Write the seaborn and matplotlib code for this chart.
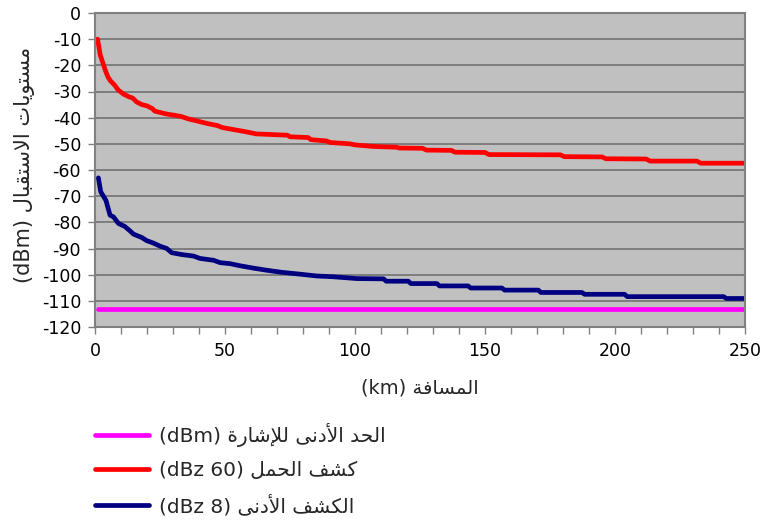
import re
import matplotlib
matplotlib.use("Agg")
import matplotlib.pyplot as plt
import seaborn as sns

# ---------------- data ----------------
min_signal_km = [1, 250]
min_signal_dbm = [-113, -113]

heavy_km = [1, 2, 3, 4, 5, 6, 7.5, 9, 11, 13, 14.5, 16, 18, 20, 22, 23, 27, 30, 33, 36,
            39, 43, 47, 49, 53, 57.5, 62, 74, 75, 82, 83, 89, 90.5, 98, 100, 107, 116,
            117, 126, 127.5, 137, 138.5, 150, 151.5, 179, 180.5, 195, 196.5, 212,
            213.5, 231.5, 233, 250]
heavy_dbm = [-10, -16, -19, -22, -24.5, -26, -27.5, -29.5, -31, -32, -32.5, -34, -35,
             -35.5, -36.5, -37.5, -38.5, -39, -39.5, -40.5, -41.2, -42.2, -43, -43.8,
             -44.5, -45.3, -46.2, -46.7, -47.3, -47.6, -48.4, -48.9, -49.5, -50, -50.4,
             -51, -51.3, -51.6, -51.7, -52.4, -52.5, -53.2, -53.3, -54.1, -54.2, -54.9,
             -55.0, -55.7, -55.8, -56.6, -56.6, -57.4, -57.4]

weak_km = [1.3, 2.2, 4.2, 5.8, 7.1, 9, 11.5, 13.5, 14.8, 16, 18, 19.9, 22.4, 25, 27.6,
           29.5, 33.3, 37.9, 40.4, 45.6, 48.1, 52, 55.8, 60.9, 66, 71.8, 78.8, 85.3,
           91.7, 100.7, 111, 112, 120.5, 121.5, 131.5, 132.5, 143.5, 144.5, 156.5,
           157.5, 170.5, 171.5, 187.3, 188.3, 203.7, 204.7, 241.8, 242.8, 250]
weak_dbm = [-63, -68.3, -71.6, -77.3, -77.9, -80.4, -81.6, -83.3, -84.5, -85, -85.8,
            -87, -87.9, -89.1, -90, -91.6, -92.3, -92.9, -93.8, -94.5, -95.4, -95.8,
            -96.6, -97.5, -98.3, -99.1, -99.8, -100.5, -100.8, -101.5, -101.6, -102.5,
            -102.5, -103.4, -103.4, -104.3, -104.3, -105.1, -105.1, -105.9, -105.9,
            -106.8, -106.8, -107.5, -107.5, -108.4, -108.4, -109.1, -109.1]

x_ticks = [0, 50, 100, 150, 200, 250]
y_ticks = list(range(-120, 1, 10))

x_label = "المسافة (km)"
y_label = "مستويات الاستقبال (dBm)"
labels = ["الحد الأدنى للإشارة (dBm)", "كشف الحمل (60 dBz)", "الكشف الأدنى (8 dBz)"]
colors = ["#FF00FF", "#FF0000", "#000080"]

# ------------- Arabic shaping (visual order for matplotlib) -------------
AR_LETTERS = "ءآأؤإئابةتثجحخدذرزسشصضطظعغفقكلمنهوىي"
COUNTS = [1, 2, 2, 2, 2, 4, 2, 4, 2, 4, 4, 4, 4, 4, 2, 2, 2, 2, 4, 4, 4, 4, 4, 4, 4, 4,
          4, 4, 4, 4, 4, 4, 4, 2, 2, 4]
FORMS = {}
_cp = 0xFE80
for _ch, _n in zip(AR_LETTERS, COUNTS):
    FORMS[_ch] = [chr(_cp + i) for i in range(_n)]
    _cp += _n
LAM_ALEF = {"آ": (0xFEF5, 0xFEF6), "أ": (0xFEF7, 0xFEF8),
            "إ": (0xFEF9, 0xFEFA), "ا": (0xFEFB, 0xFEFC)}


def _dual(c):
    return c in FORMS and len(FORMS[c]) == 4


def _joinable(c):
    return c in FORMS and len(FORMS[c]) > 1


def shape(s):
    out, i, n = [], 0, len(s)
    while i < n:
        c = s[i]
        if c not in FORMS:
            out.append(c)
            i += 1
            continue
        pj = i > 0 and _dual(s[i - 1])
        if c == "ل" and i + 1 < n and s[i + 1] in LAM_ALEF:
            iso, fin = LAM_ALEF[s[i + 1]]
            out.append(chr(fin if pj else iso))
            i += 2
            continue
        nxt = s[i + 1] if i + 1 < n else ""
        nj = _dual(c) and _joinable(nxt)
        f = FORMS[c]
        if len(f) == 1:
            out.append(f[0])
        elif pj and nj:
            out.append(f[3])
        elif pj:
            out.append(f[1])
        elif nj:
            out.append(f[2])
        else:
            out.append(f[0])
        i += 1
    return "".join(out)


def visual(s):
    t = shape(s)[::-1]
    t = t.translate(str.maketrans("()", ")("))
    return re.sub(r"[A-Za-z0-9]+", lambda m: m.group(0)[::-1], t)


# ---------------- plot ----------------
sns.set_style("ticks")
plt.rcParams["font.family"] = ["DejaVu Sans"]
plt.rcParams["axes.unicode_minus"] = False

fig = plt.figure(figsize=(7.61, 5.22), dpi=100)
ax = fig.add_axes([95 / 761, 1 - 327 / 522, 650 / 761, 314 / 522])
ax.set_facecolor("#C0C0C0")

series = [(min_signal_km, min_signal_dbm), (heavy_km, heavy_dbm), (weak_km, weak_dbm)]
for (xs, ys), lab, col in zip(series, labels, colors):
    sns.lineplot(x=xs, y=ys, ax=ax, color=col, linewidth=3.4, estimator=None,
                 sort=False, label=visual(lab))

ax.set_xlim(0, 250)
ax.set_ylim(-120, 0)
ax.set_xticks(x_ticks)
ax.set_xticks(list(range(0, 251, 10)), minor=True)
ax.set_yticks(y_ticks)
ax.tick_params(axis="both", which="both", direction="out", length=5, width=1,
               color="#808080", labelsize=12.5, labelcolor="black")
ax.tick_params(axis="x", which="major", pad=6)
ax.tick_params(axis="y", which="major", pad=5)

ax.set_axisbelow(True)
ax.yaxis.grid(True, color="#6a6a6a", linewidth=1.1)
ax.xaxis.grid(False)
for sp in ax.spines.values():
    sp.set_visible(True)
    sp.set_color("#808080")
    sp.set_linewidth(1.5)

ax.set_xlabel(visual(x_label), fontsize=14)
ax.xaxis.set_label_coords(0.5, -(388 - 327) / 314, transform=ax.transAxes)
ax.set_ylabel(visual(y_label), fontsize=15)
ax.yaxis.set_label_coords((25 - 95) / 650, (327 - 165) / 314, transform=ax.transAxes)
ax.xaxis.label.set_va("center")
ax.yaxis.label.set_va("center")

handles, labs = ax.get_legend_handles_labels()
if ax.get_legend() is not None:
    ax.get_legend().remove()
fig.legend(handles, labs, loc="upper left", bbox_to_anchor=(95 / 761, 1 - 423 / 522),
           frameon=False, fontsize=14.5, handlelength=2.7, handletextpad=0.5,
           labelspacing=0.7, borderpad=0, borderaxespad=0)

fig.savefig("out.png", dpi=100)
